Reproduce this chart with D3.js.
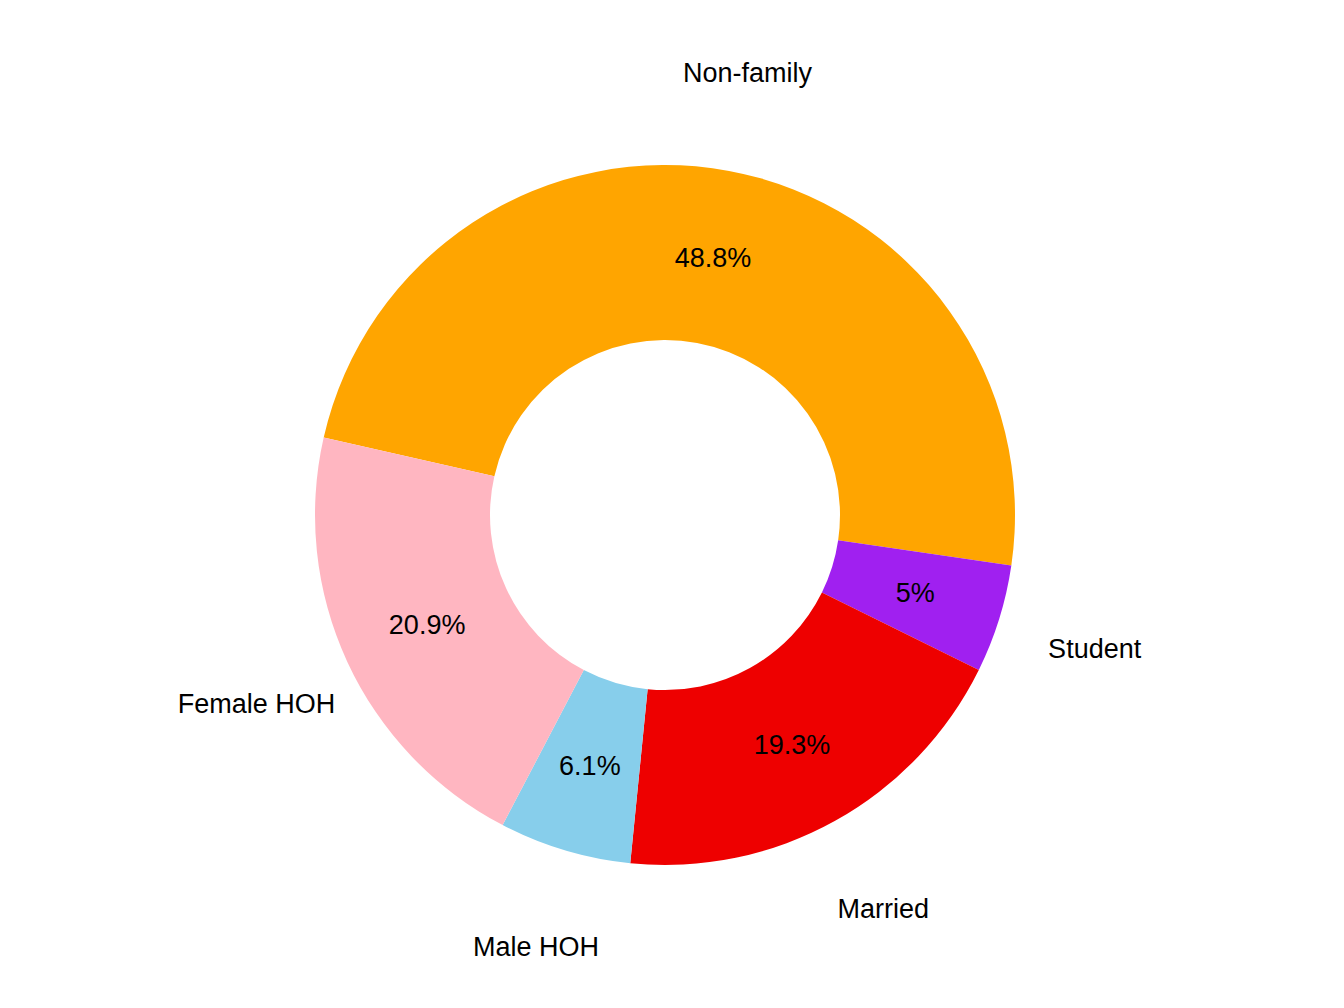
<!DOCTYPE html>
<html lang="en">
<head>
  <meta charset="UTF-8">
  <title>Household types</title>
  <style>
    body { margin: 0; background: #fff; }
  </style>
</head>
<body>
  <div id="svg"></div>
  <script src="https://d3js.org/d3.v7.min.js"></script>
  <script>
    const categories = ['Non-family', 'Student', 'Married', 'Male HOH', 'Female HOH']
    const values = [48.8, 5, 19.3, 6.1, 20.9]
    const pctLabels = ['48.8%', '5%', '19.3%', '6.1%', '20.9%']
    const colors = ['#FFA500', '#A020F0', '#EE0000', '#87CEEB', '#FFB6C1']

    const width = 1344
    const height = 1008
    const cx = 665, cy = 515
    const outerR = 350, innerR = 175

    const svg = d3.select('#svg').append('svg').attr('width', width).attr('height', height)
    const g = svg.append('g').attr('transform', `translate(${cx},${cy})`)

    const start = -77.2 * Math.PI / 180
    const pie = d3.pie().sort(null).value(d => d).startAngle(start).endAngle(start + 2 * Math.PI)
    const arcs = pie(values)

    const arc = d3.arc().innerRadius(innerR).outerRadius(outerR)
    const midArc = d3.arc().innerRadius(262).outerRadius(262)
    const outArc = d3.arc().innerRadius(450).outerRadius(450)

    g.selectAll('path').data(arcs).enter().append('path')
      .attr('d', arc)
      .attr('fill', (d, i) => colors[i])

    const font = '"Liberation Sans", Arial, sans-serif'

    g.selectAll('text.pct').data(arcs).enter().append('text')
      .attr('class', 'pct')
      .attr('transform', d => `translate(${midArc.centroid(d)})`)
      .attr('text-anchor', 'middle')
      .attr('dy', '0.35em')
      .attr('font-family', font)
      .attr('font-size', '27px')
      .text((d, i) => pctLabels[i])

    g.selectAll('text.cat').data(arcs).enter().append('text')
      .attr('class', 'cat')
      .attr('transform', d => `translate(${outArc.centroid(d)})`)
      .attr('text-anchor', 'middle')
      .attr('dy', '0.35em')
      .attr('font-family', font)
      .attr('font-size', '27px')
      .text((d, i) => categories[i])
  </script>
</body>
</html>
